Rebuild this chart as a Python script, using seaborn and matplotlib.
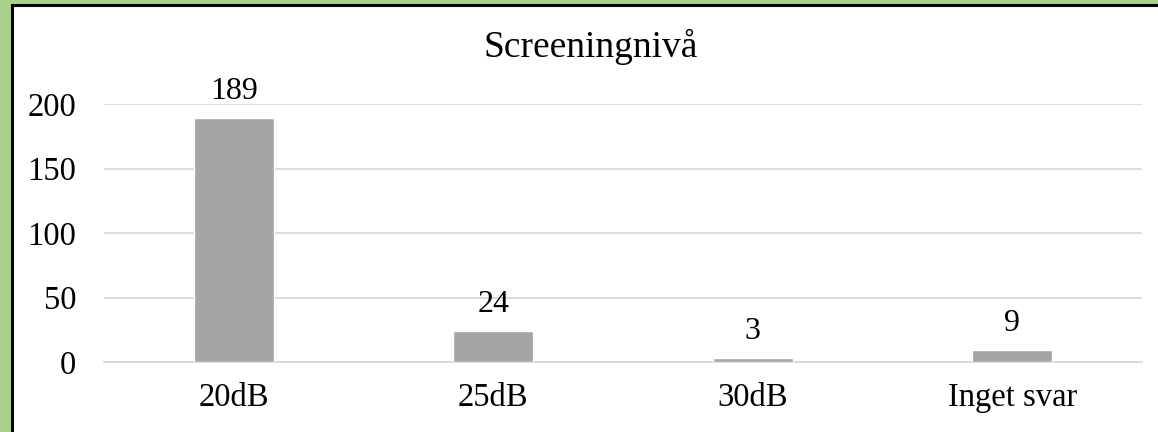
import matplotlib
matplotlib.use("Agg")
import matplotlib.pyplot as plt
import seaborn as sns
import pandas as pd
from matplotlib.patches import Rectangle

categories = ["20dB", "25dB", "30dB", "Inget svar"]
counts = [189, 24, 3, 9]
yticks = [0, 50, 100, 150, 200]
title = "Screeningnivå"

sns.set_style("white")
plt.rcParams["font.family"] = ["Liberation Serif", "DejaVu Serif"]
plt.rcParams["text.color"] = "black"

W, H = 1158, 432
fig = plt.figure(figsize=(W / 100, H / 100), dpi=100, facecolor="#a9d18e")

# white chart area with dark frame on left/top (right/bottom are cropped)
fig.patches.append(Rectangle((11.5 / W, -0.1), 1.2, 1 - 4.5 / H + 0.1,
                             transform=fig.transFigure, facecolor="white",
                             edgecolor="black", linewidth=2.2, zorder=-5))

ax = fig.add_axes([104 / W, 1 - 362 / H, (1142 - 104) / W, (362 - 104) / H])
ax.set_facecolor("none")
ax.set_zorder(2)

df = pd.DataFrame({"cat": categories, "n": counts})
sns.barplot(data=df, x="cat", y="n", color="#a5a5a5", width=0.31,
            saturation=1, ax=ax, zorder=3)

ax.set_ylim(0, 200)
ax.set_yticks(yticks)
ax.yaxis.grid(True, color="#d9d9d9", linewidth=1.3, zorder=0)
ax.set_axisbelow(True)
for s in ["top", "right", "left"]:
    ax.spines[s].set_visible(False)
ax.spines["bottom"].set_color("#d9d9d9")
ax.spines["bottom"].set_linewidth(1.3)
ax.tick_params(axis="both", length=0, labelsize=23.5, colors="black")
ax.tick_params(axis="y", pad=20)
ax.tick_params(axis="x", pad=15)
ax.set_xlabel("")
ax.set_ylabel("")

ax.bar_label(ax.containers[0], labels=[str(v) for v in counts],
             padding=9, fontsize=23, color="black")

fig.text(591 / W, 1 - 47 / H, title, ha="center", va="center",
         fontsize=27, color="black")

fig.savefig("out.png", dpi=100, facecolor=fig.get_facecolor())
